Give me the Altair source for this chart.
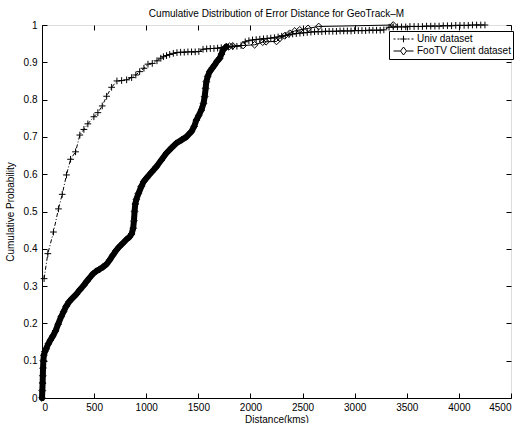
import altair as alt
import pandas as pd

# ---------------- data ----------------
univ_dist = [20, 56, 110, 158, 194, 235, 274, 322, 363, 402, 440, 498, 536, 578, 620, 668,
             719, 764, 812, 860, 900, 937, 978, 1017, 1058, 1103, 1140, 1165, 1195, 1225,
             1260, 1295, 1330, 1365, 1400, 1435, 1470, 1505, 1545, 1580, 1615, 1650, 1685,
             1720, 1755, 1790, 1830, 1870, 1910, 1950, 1985, 2020, 2055, 2090, 2125, 2160,
             2195, 2230, 2265, 2300, 2335, 2370, 2405, 2440, 2475, 2510, 2545, 2580, 2615,
             2650, 2685, 2720, 2755, 2790, 2825, 2860, 2895, 2930, 2965, 3000, 3035, 3070,
             3105, 3140, 3175, 3210, 3245, 3280, 3330, 3370, 3410, 3450, 3490, 3530, 3570,
             3610, 3650, 3690, 3730, 3770, 3810, 3850, 3890, 3930, 3970, 4010, 4050, 4090,
             4130, 4170, 4210, 4250]
univ_prob = [0.320, 0.387, 0.445, 0.507, 0.546, 0.598, 0.640, 0.660, 0.705, 0.720, 0.735,
             0.754, 0.765, 0.783, 0.809, 0.833, 0.850, 0.851, 0.853, 0.859, 0.866, 0.875,
             0.884, 0.895, 0.897, 0.904, 0.911, 0.915, 0.918, 0.921, 0.924, 0.926, 0.927,
             0.927, 0.928, 0.928, 0.928, 0.929, 0.935, 0.936, 0.937, 0.937, 0.938, 0.939,
             0.940, 0.941, 0.942, 0.943, 0.945, 0.955, 0.958, 0.960, 0.961, 0.962, 0.963,
             0.964, 0.965, 0.966, 0.968, 0.970, 0.972, 0.974, 0.976, 0.977, 0.978, 0.979,
             0.980, 0.981, 0.982, 0.982, 0.982, 0.983, 0.983, 0.983, 0.983, 0.984, 0.984,
             0.984, 0.984, 0.985, 0.985, 0.985, 0.985, 0.986, 0.986, 0.986, 0.986, 0.987,
             0.994, 0.995, 0.995, 0.995, 0.995, 0.996, 0.996, 0.996, 0.996, 0.997, 0.997,
             0.997, 0.997, 0.998, 0.998, 0.998, 0.999, 0.999, 0.999, 0.999, 1.0, 1.0, 1.0, 1.0]

foo_dist = [0, 3, 6, 8, 10, 13, 18, 28, 40, 60, 80, 104, 130, 155, 184, 208, 232, 260, 290,
            328, 360, 400, 430, 456, 490, 520, 552, 585, 617, 650, 680, 710, 740, 776, 810,
            840, 860, 875, 882, 888, 895, 905, 925, 953, 975, 1001, 1050, 1097, 1145, 1193,
            1240, 1289, 1340, 1385, 1433, 1460, 1481, 1505, 1529, 1550, 1561, 1570, 1577,
            1590, 1609, 1635, 1657, 1680, 1705, 1722, 1737, 1769,
            1800, 1830, 1930, 2040, 2118, 2150, 2250, 2281, 2329, 2377, 2425, 2473, 2553,
            2655, 3370]
foo_prob = [0.0, 0.02, 0.04, 0.06, 0.08, 0.10, 0.115, 0.125, 0.132, 0.145, 0.155, 0.166,
            0.180, 0.198, 0.218, 0.232, 0.246, 0.258, 0.267, 0.278, 0.289, 0.302, 0.313,
            0.322, 0.333, 0.340, 0.345, 0.351, 0.358, 0.370, 0.383, 0.395, 0.405, 0.415,
            0.425, 0.432, 0.440, 0.455, 0.475, 0.500, 0.520, 0.532, 0.548, 0.567, 0.580,
            0.589, 0.605, 0.620, 0.638, 0.656, 0.670, 0.683, 0.692, 0.700, 0.714, 0.728,
            0.745, 0.758, 0.772, 0.790, 0.808, 0.830, 0.848, 0.862, 0.875, 0.885, 0.893,
            0.903, 0.911, 0.922, 0.933, 0.942,
            0.943, 0.944, 0.945, 0.947, 0.954, 0.955, 0.956, 0.964, 0.971, 0.978, 0.984,
            0.987, 0.991, 0.996, 1.0]

series_names = ["Univ dataset", "FooTV Client dataset"]
x_ticks = [0, 500, 1000, 1500, 2000, 2500, 3000, 3500, 4000, 4500]
y_ticks = [0, 0.1, 0.2, 0.3, 0.4, 0.5, 0.6, 0.7, 0.8, 0.9, 1.0]

# ---------------- tables ----------------
univ_df = pd.DataFrame({"dist": univ_dist, "prob": univ_prob, "series": series_names[0]})
foo_df = pd.DataFrame({"dist": foo_dist, "prob": foo_prob, "series": series_names[1]})
all_df = pd.concat([univ_df, foo_df], ignore_index=True)

W, H = 469, 373
FONT = "Liberation Sans"
PLUS = "M-1,0H1M0,-1V1"
LEG_UNIV = "M-1,0H-0.8M-0.6,0H-0.4M0.4,0H0.6M0.8,0H1M-0.33,0H0.33M0,-0.33V0.33"
LEG_FOO = "M-1,0H-0.3M0.3,0H1M-0.3,0L0,-0.4L0.3,0L0,0.4Z"

xs = alt.Scale(domain=[0, 4500], nice=False, zero=False)
ys = alt.Scale(domain=[0, 1], nice=False, zero=False)

tick_common = dict(labels=False, domain=False, ticks=True, tickSize=5, tickColor="black",
                   tickWidth=1, grid=False, title=None)

ax_x_main = alt.Axis(orient="bottom", values=x_ticks, format="d", ticks=False, domain=True,
                     domainColor="black", domainWidth=1, labelFont=FONT, labelFontSize=10,
                     labelColor="black", labelPadding=4, grid=False, title="Distance(kms)",
                     titleFont=FONT, titleFontSize=10, titleFontWeight="normal",
                     titleColor="black", titlePadding=2)
ax_y_main = alt.Axis(orient="left", values=y_ticks, format="~g", ticks=False, domain=True,
                     domainColor="black", domainWidth=1, labelFont=FONT, labelFontSize=10,
                     labelColor="black", labelPadding=5, grid=False,
                     title="Cumulative Probability", titleFont=FONT, titleFontSize=10,
                     titleFontWeight="normal", titleColor="black", titlePadding=8)
ax_x_in_bottom = alt.Axis(orient="top", offset=-H, values=x_ticks, **tick_common)
ax_y_in_left = alt.Axis(orient="right", offset=-W, values=y_ticks, **tick_common)
ax_x_in_top = alt.Axis(orient="bottom", offset=-H, values=x_ticks, **tick_common)
ax_y_in_right = alt.Axis(orient="left", offset=-W, values=y_ticks, **tick_common)

univ_line = alt.Chart(univ_df).mark_line(color="black", strokeWidth=1, strokeDash=[4, 2, 1, 2]).encode(
    x=alt.X("dist:Q", scale=xs, axis=ax_x_main),
    y=alt.Y("prob:Q", scale=ys, axis=ax_y_main),
)

foo_thick = alt.Chart(foo_df).transform_filter(alt.datum.dist <= 1770).mark_line(
    color="black", strokeWidth=6, strokeCap="round", strokeJoin="round").encode(
    x=alt.X("dist:Q", scale=xs, axis=ax_x_in_bottom),
    y=alt.Y("prob:Q", scale=ys, axis=ax_y_in_left),
)

foo_line = alt.Chart(foo_df).mark_line(color="black", strokeWidth=1).encode(
    x=alt.X("dist:Q", scale=xs, axis=ax_x_in_top),
    y=alt.Y("prob:Q", scale=ys, axis=ax_y_in_right),
)

points = alt.Chart(all_df).mark_point(filled=False, color="black", strokeWidth=1, size=45,
                                      opacity=1).encode(
    x=alt.X("dist:Q", scale=xs, axis=None),
    y=alt.Y("prob:Q", scale=ys, axis=None),
    shape=alt.Shape("series:N",
                    scale=alt.Scale(domain=series_names, range=[PLUS, "diamond"]),
                    legend=None),
)

# invisible layer that only carries the legend (line + marker symbols)
legend_layer = alt.Chart(all_df).mark_point(filled=False, color="black", opacity=0).encode(
    x=alt.X("dist:Q", scale=xs, axis=None),
    y=alt.Y("prob:Q", scale=ys, axis=None),
    shape=alt.Shape("series:N",
                    scale=alt.Scale(domain=series_names, range=[LEG_UNIV, LEG_FOO]),
                    legend=alt.Legend(
                        title=None, orient="none", legendX=347, legendY=6,
                        direction="vertical",
                        strokeColor="black", fillColor="white", padding=2,
                        labelFont=FONT, labelFontSize=10, labelColor="black",
                        labelOffset=3, symbolSize=400, symbolStrokeWidth=1,
                        symbolStrokeColor="black", symbolFillColor="transparent",
                        symbolOpacity=1, symbolOffset=2, rowPadding=0, clipHeight=12,
                    )),
)

chart = alt.layer(univ_line, foo_thick, foo_line, points, legend_layer).resolve_axis(
    x="independent", y="independent"
).resolve_scale(shape="independent").resolve_legend(shape="independent").properties(
    width=W, height=H,
    title=alt.Title("Cumulative Distribution of Error Distance for GeoTrack\u2013M",
                    font=FONT, fontSize=10, fontWeight="normal", color="black",
                    anchor="middle", offset=1),
    autosize=alt.AutoSizeParams(type="none"),
    padding={"left": 42, "top": 25, "right": 10, "bottom": 25},
).configure_view(stroke="black", strokeWidth=1).configure(background="white")

chart.save("out.html", embed_options={"renderer": "svg", "actions": False})
